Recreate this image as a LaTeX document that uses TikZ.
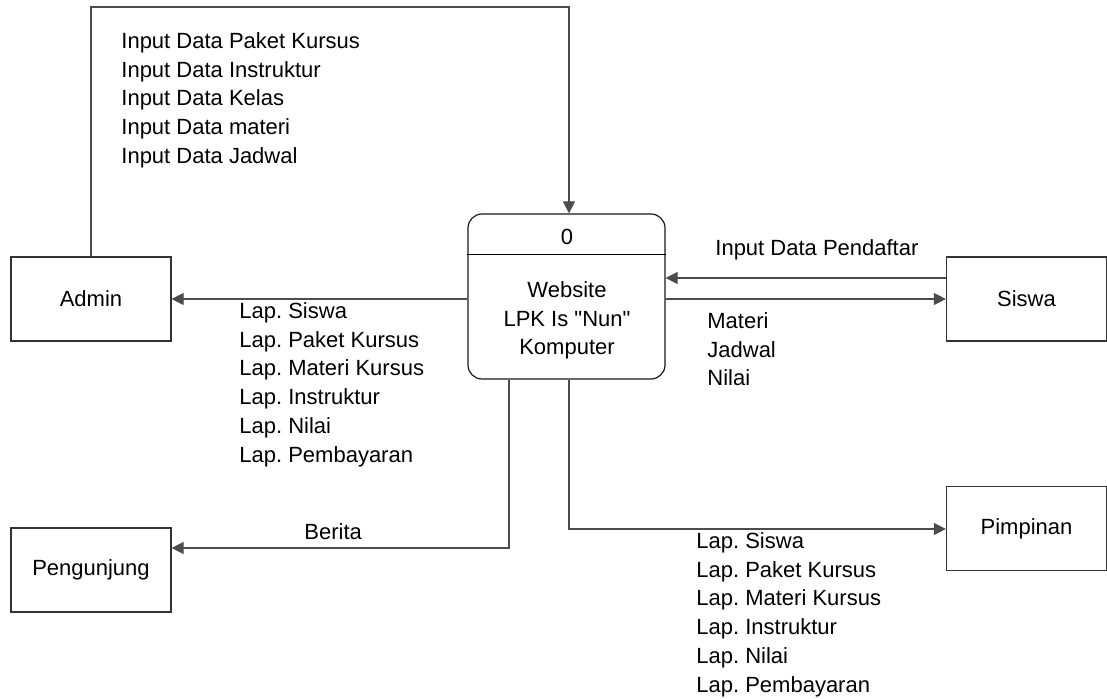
\documentclass[tikz,border=0pt]{standalone}
\usepackage{fontspec}
\setmainfont{Liberation Sans}
\usetikzlibrary{arrows.meta,calc,positioning}
\frenchspacing
\newcommand\lpkfont{\fontsize{11}{14.375}\selectfont}
\tikzset{
	ent/.style={draw=black!80,line width=0.6pt,minimum width=80pt,minimum height=42pt,
		inner sep=0pt,font=\lpkfont},
	proc/.style={draw=black!90,line width=0.6pt,rounded corners=7pt,minimum width=98.5pt,
		minimum height=82.5pt,inner sep=0pt},
	flow/.style={draw=black!70,line width=0.6pt,-{Triangle[length=6pt,width=6pt]}},
	lbl/.style={inner sep=0pt,font=\lpkfont,align=left}
}
\begin{document}
\begin{tikzpicture}[x=0.5pt,y=-0.5pt]
      \useasboundingbox (0,0) rectangle (1107,699);
      % entities
      \node [ent] (admin) at (91,299) {Admin};
      \node [ent] (siswa) at (1026.5,299) {Siswa};
      \node [ent] (peng) at (91,570) {Pengunjung};
      \node [ent] (pimp) at (1026.5,528.5) {Pimpinan};
      % process 0
      \node [proc] (proc) at (566.5,296.5) {};
      \draw [line width=0.6pt] ($(proc.north west)+(0,41)$) -- ($(proc.north east)+(0,41)$);
      \node [lbl,anchor=base] (pnum) at (567,245) {0};
      \node [lbl,align=center,anchor=north] (pname) at (567,281) {Website\\LPK Is \textquotedbl Nun\textquotedbl\\Komputer};
      % flows
      \coordinate (cin) at (569,7);
      \draw [flow] (admin.north) |- (cin) -- (cin |- proc.north);
      \draw [flow] (admin.east -| proc.west) -- (admin.east);
      \coordinate (sin) at ($(siswa.west)+(0,-21)$);
      \draw [flow] (sin) -- (sin -| proc.east);
      \draw [flow] (siswa.west -| proc.east) -- (siswa.west);
      \coordinate (bturn) at (509,548);
      \draw [flow] (proc.south -| bturn) -- (bturn) -- (bturn -| peng.east);
      \coordinate (pturn) at (569,529);
      \draw [flow] (proc.south -| pturn) -- (pturn) -- (pturn -| pimp.west);
      % flow labels
      \node [lbl,anchor=north west] (inadmin) at (121,32) {Input Data Paket Kursus\\Input Data Instruktur\\Input Data Kelas\\Input Data materi\\Input Data Jadwal};
      \node [lbl,anchor=north west] (lapadmin) at (239,302) {Lap. Siswa\\Lap. Paket Kursus\\Lap. Materi Kursus\\Lap. Instruktur\\Lap. Nilai\\Lap. Pembayaran};
      \node [lbl,anchor=base west] (insiswa) at (715,256) {Input Data Pendaftar};
      \node [lbl,anchor=north west] (outsiswa) at (707,312) {Materi\\Jadwal\\Nilai};
      \node [lbl,anchor=base west] (berita) at (304,539) {Berita};
      \node [lbl,anchor=north west] (lappimp) at (696,532) {Lap. Siswa\\Lap. Paket Kursus\\Lap. Materi Kursus\\Lap. Instruktur\\Lap. Nilai\\Lap. Pembayaran};
   \end{tikzpicture}
\end{document}
